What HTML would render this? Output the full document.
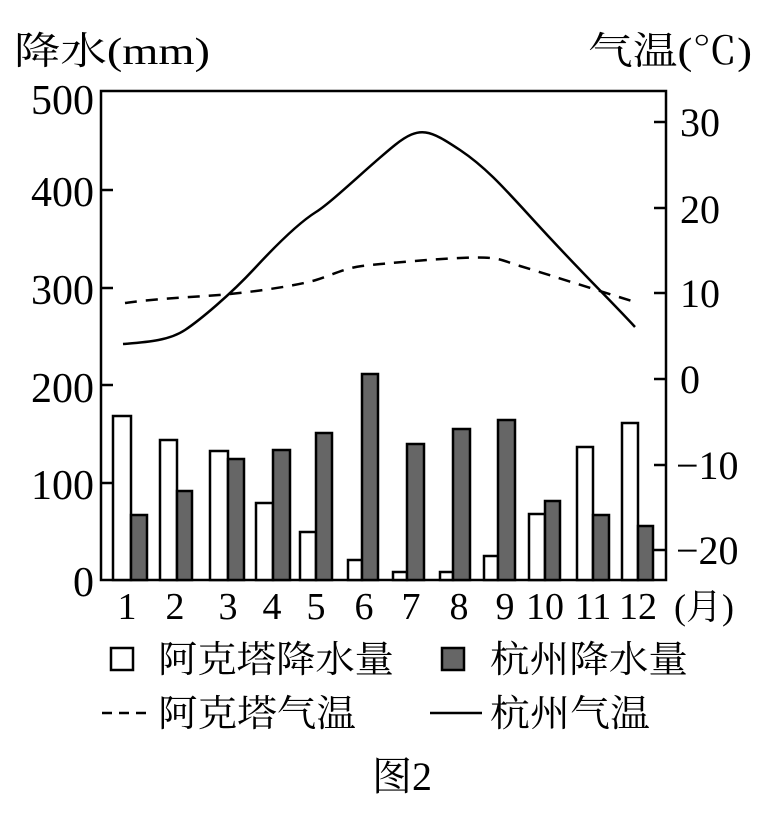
<!DOCTYPE html>
<html><head><meta charset="utf-8"><style>
body{margin:0;background:#fff}
text{font-family:"Liberation Serif","Noto Serif CJK SC",serif;fill:#000}
</style></head><body>
<svg width="768" height="810" viewBox="0 0 768 810" xmlns="http://www.w3.org/2000/svg">
<text x="14" y="64" font-size="38" textLength="196" lengthAdjust="spacingAndGlyphs">降水(mm)</text>
<text x="588" y="64" font-size="38" textLength="164" lengthAdjust="spacingAndGlyphs">气温(℃)</text>
<g font-size="42" text-anchor="end">
<text x="94" y="114">500</text>
<text x="94" y="206">400</text>
<text x="94" y="304">300</text>
<text x="94" y="402">200</text>
<text x="94" y="499">100</text>
<text x="94" y="596">0</text>
</g>
<g font-size="40">
<text x="680" y="136">30</text>
<text x="680" y="223">20</text>
<text x="680" y="307">10</text>
<text x="680" y="393">0</text>
<text x="676" y="479">−10</text>
<text x="676" y="564">−20</text>
</g>
<g stroke="#000" stroke-width="2.5" fill="none">
<rect x="101" y="91" width="565" height="489"/>
<path d="M101 190h12M101 288h12M101 385h12M101 483h12M666 122h-12M666 208h-12M666 293h-12M666 379h-12M666 465h-12M666 550h-12"/>
</g>
<g stroke="#000" stroke-width="2.5">
<g fill="#fff">
<rect x="113" y="416" width="18" height="164"/>
<rect x="160" y="440" width="17" height="140"/>
<rect x="210" y="451" width="18" height="129"/>
<rect x="256" y="503" width="17" height="77"/>
<rect x="300" y="532" width="16" height="48"/>
<rect x="348" y="560" width="14" height="20"/>
<rect x="393" y="572" width="14" height="8"/>
<rect x="440" y="572" width="13" height="8"/>
<rect x="484" y="556" width="14" height="24"/>
<rect x="529" y="514" width="16" height="66"/>
<rect x="577" y="447" width="16" height="133"/>
<rect x="622" y="423" width="16" height="157"/>
</g>
<g fill="#666">
<rect x="131" y="515" width="16" height="65"/>
<rect x="177" y="491" width="15" height="89"/>
<rect x="228" y="459" width="16" height="121"/>
<rect x="273" y="450" width="17" height="130"/>
<rect x="316" y="433" width="16" height="147"/>
<rect x="362" y="374" width="16" height="206"/>
<rect x="407" y="444" width="17" height="136"/>
<rect x="453" y="429" width="17" height="151"/>
<rect x="498" y="420" width="17" height="160"/>
<rect x="545" y="501" width="15" height="79"/>
<rect x="593" y="515" width="16" height="65"/>
<rect x="638" y="526" width="15" height="54"/>
</g>
</g>
<path d="M123 344 C150 342,170 340,185 330 S230 295,255 268 S300 222,316 212 S370 165,395 145 S430 130,460 150 S510 195,550 238 S610 300,635 327" stroke="#000" stroke-width="2.5" fill="none"/>
<path d="M125 303 C160 298,200 297,230 294 S300 285,316 280 S345 268,362 266 S420 260,460 258 S500 260,520 266 S590 288,635 302" stroke="#000" stroke-width="2.5" fill="none" stroke-dasharray="12,9"/>
<g font-size="38" text-anchor="middle">
<text x="127" y="619">1</text><text x="175" y="619">2</text><text x="228" y="619">3</text>
<text x="272" y="619">4</text><text x="316" y="619">5</text><text x="364" y="619">6</text>
<text x="411" y="619">7</text><text x="459" y="619">8</text><text x="505" y="619">9</text>
<text x="545" y="619">10</text><text x="593" y="619">11</text><text x="638" y="619">12</text>
</g>
<text x="674" y="619" font-size="36">(月)</text>
<rect x="111" y="648" width="22" height="22" fill="#fff" stroke="#000" stroke-width="2.5"/>
<text x="158" y="672" font-size="37" textLength="236" lengthAdjust="spacingAndGlyphs">阿克塔降水量</text>
<rect x="442" y="648" width="22" height="22" fill="#666" stroke="#000" stroke-width="2.5"/>
<text x="490" y="672" font-size="37" textLength="198" lengthAdjust="spacingAndGlyphs">杭州降水量</text>
<path d="M102 713h50" stroke="#000" stroke-width="2.5" stroke-dasharray="10,7"/>
<text x="158" y="726" font-size="37" textLength="198" lengthAdjust="spacingAndGlyphs">阿克塔气温</text>
<path d="M430 713h52" stroke="#000" stroke-width="2.5"/>
<text x="490" y="726" font-size="37" textLength="160" lengthAdjust="spacingAndGlyphs">杭州气温</text>
<text x="402" y="790" font-size="40" text-anchor="middle">图2</text>
</svg>
</body></html>
